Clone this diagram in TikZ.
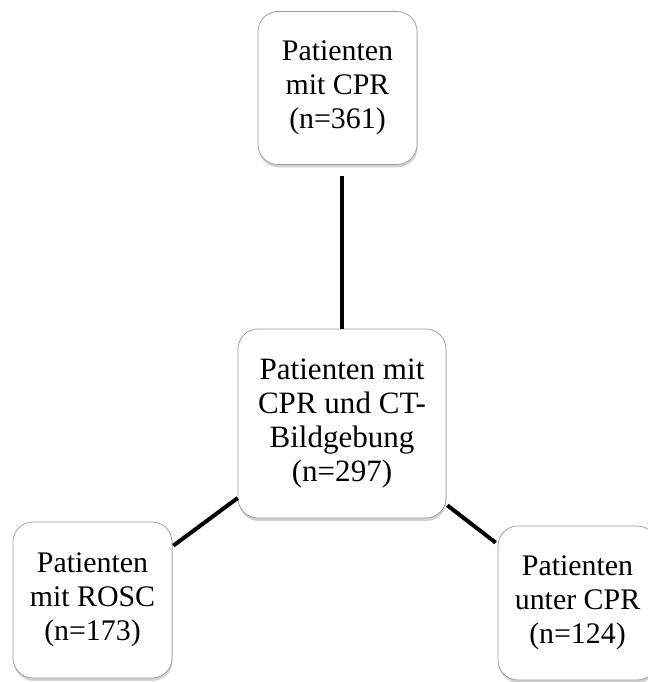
\documentclass[tikz,border=0pt]{standalone}
\usepackage{fontspec}
\setmainfont{Liberation Serif}
\usetikzlibrary{shadows}

\definecolor{Rand}{HTML}{9A9A9A}
\definecolor{Schatten}{HTML}{7F7F7F}

\begin{document}
\begin{tikzpicture}[x=0.03cm, y=-0.03cm,
  box/.style={draw=Rand, line width=0.6pt, fill=white, rounded corners=0.6cm,
    align=center, inner sep=2pt, font=\fontsize{25.5}{29}\selectfont,
    drop shadow={shadow xshift=0.5pt, shadow yshift=-2.5pt, opacity=0.35, fill=Schatten}},
  bigbox/.style={box, font=\fontsize{26.5}{29}\selectfont},
  link/.style={line width=3.4pt, black}]

  \useasboundingbox (0,0) rectangle (647,682);

  %%%%%%%%%%%%%%%% BOXES %%%%%%%%%%%%%%%%
  \node[box, minimum width=4.77cm, minimum height=4.59cm] (top) at (337.5,88)
    {Patienten\\mit CPR\\(n=361)};
  \node[bigbox, minimum width=6.24cm, minimum height=5.67cm] (mid) at (342,423.5)
    {Patienten mit\\CPR und CT-\\Bildgebung\\(n=297)};
  \node[box, minimum width=4.77cm, minimum height=4.68cm] (rosc) at (92.5,600)
    {Patienten\\mit ROSC\\(n=173)};
  \node[box, minimum width=4.77cm, minimum height=4.62cm] (unter) at (577.5,603)
    {Patienten\\unter CPR\\(n=124)};

  %%%%%%%%%%%%%%%% LINKS %%%%%%%%%%%%%%%%
  \draw[link, shorten <=0.33cm] (top.south -| mid.north) -- (mid.north);
  \draw[link] ([shift={(0,74.5)}]mid.west) -- ([shift={(1,24)}]rosc.north east);
  \draw[link] ([shift={(1,-13)}]mid.south east) -- ([shift={(-2,17)}]unter.north west);

\end{tikzpicture}
\end{document}
